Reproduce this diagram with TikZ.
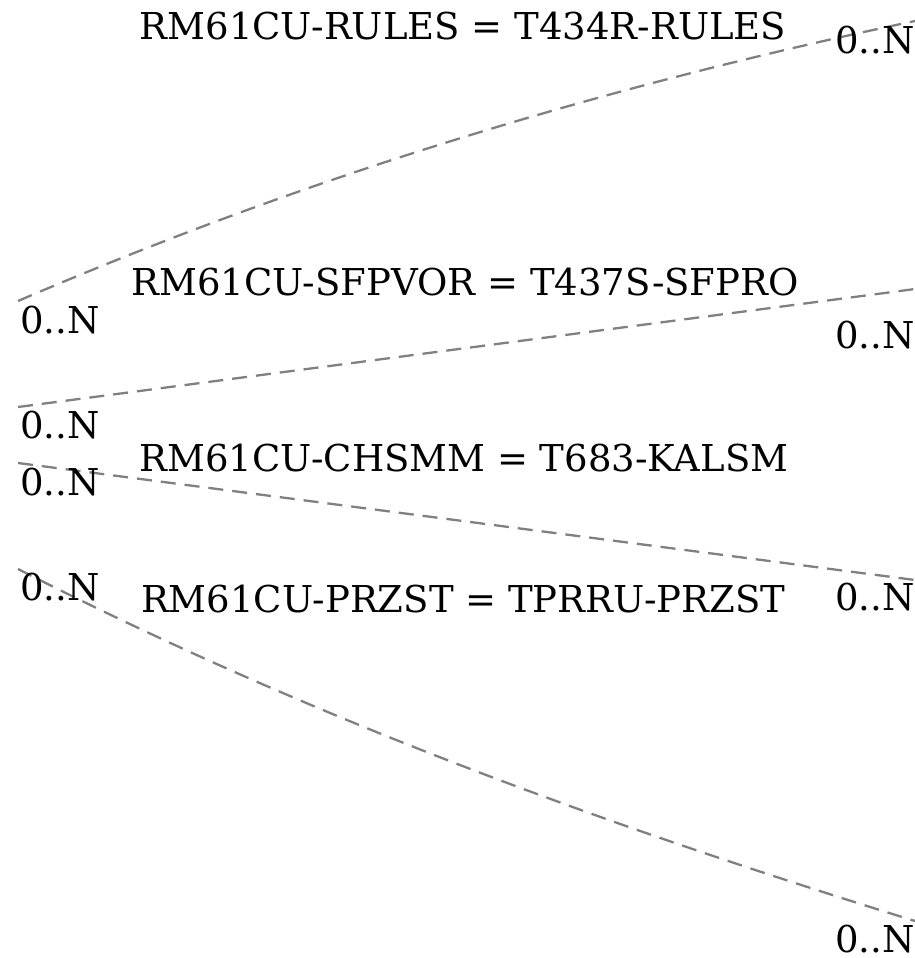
\documentclass[tikz,border=0pt]{standalone}
\usepackage{fontspec}
\setmainfont{DejaVu Serif}
\definecolor{edgegray}{RGB}{128,128,128}
\begin{document}
\begin{tikzpicture}[x=1pt,y=-1pt,
  rel/.style={draw=edgegray,line width=2.3pt,dash pattern=on 15pt off 9pt},
  card/.style={inner sep=0pt,anchor=base west,font=\fontsize{37}{44}\selectfont},
  rlabel/.style={inner sep=0pt,anchor=base,font=\fontsize{37}{44}\selectfont}]
\useasboundingbox (0,0) rectangle (915,958);
% endpoints
\coordinate (a1) at (18,301);
\coordinate (b1) at (915,21);
\coordinate (a2) at (18,407);
\coordinate (b2) at (915,289);
\coordinate (a3) at (18,463);
\coordinate (b3) at (915,580);
\coordinate (a4) at (18,569);
\coordinate (b4) at (915,921);
% connectors
\draw[rel] (a1) .. controls (318,172) and (615,84) .. (b1);
\draw[rel] (a2) -- (b2);
\draw[rel] (a3) -- (b3);
\draw[rel] (a4) .. controls (318,722) and (615,828) .. (b4);
% relation labels
\node[rlabel] (r1) at (463,40) {RM61CU-RULES = T434R-RULES};
\node[rlabel] (r2) at (465,295) {RM61CU-SFPVOR = T437S-SFPRO};
\node[rlabel] (r3) at (464,471) {RM61CU-CHSMM = T683-KALSM};
\node[rlabel] (r4) at (463,612) {RM61CU-PRZST = TPRRU-PRZST};
% cardinalities
\node[card] (c1l) at (20,333) {0..N};
\node[card] (c1r) at (835,53) {0..N};
\node[card] (c2l) at (20,438) {0..N};
\node[card] (c2r) at (835,348) {0..N};
\node[card] (c3l) at (20,495) {0..N};
\node[card] (c3r) at (835,610) {0..N};
\node[card] (c4l) at (20,600) {0..N};
\node[card] (c4r) at (835,952) {0..N};
\end{tikzpicture}
\end{document}
